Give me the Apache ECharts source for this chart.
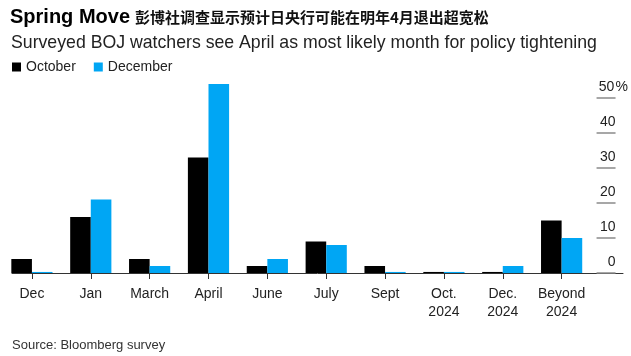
<!DOCTYPE html>
<html>
<head>
<meta charset="utf-8">
<script src="https://cdn.jsdelivr.net/npm/echarts@6/dist/echarts.min.js"></script>
<style>
html,body{margin:0;padding:0;background:#fff;}
#chart{width:631px;height:356px;}
</style>
</head>
<body>
<div id="chart"></div>
<script>
const categories = ['Dec', 'Jan', 'March', 'April', 'June', 'July', 'Sept', 'Oct.\n2024', 'Dec.\n2024', 'Beyond\n2024'];
const october = [4, 16, 4, 33, 2, 9, 2, 0.3, 0.3, 15];
const december = [0.3, 21, 2, 54, 4, 8, 0.3, 0.3, 2, 10];
const yTicks = [0, 10, 20, 30, 40, 50];

const FONT = '"Liberation Sans", Arial, sans-serif';
const chart = echarts.init(document.getElementById('chart'), null, {renderer: 'canvas'});

chart.setOption({
  animation: false,
  backgroundColor: '#ffffff',
  textStyle: {fontFamily: FONT},
  title: [
    {
      left: 10, top: 7, padding: 0,
      text: '{a|Spring Move} {b|彭博社调查显示预计日央行可能在明年4月退出超宽松}',
      textStyle: {
        rich: {
          a: {fontFamily: FONT, fontSize: 20, fontWeight: 'bold', color: '#000'},
          b: {fontFamily: '"Noto Sans CJK SC", sans-serif', fontSize: 15, color: '#111'}
        }
      }
    },
    {
      left: 11, top: 34, padding: 0,
      text: 'Surveyed BOJ watchers see April as most likely month for policy tightening',
      textStyle: {fontFamily: FONT, fontSize: 17.7, fontWeight: 'normal', color: '#222'}
    },
    {
      left: 12, bottom: 4, padding: 0,
      text: 'Source: Bloomberg survey',
      textStyle: {fontFamily: FONT, fontSize: 13, fontWeight: 'normal', color: '#333'}
    }
  ],
  legend: {
    left: 12, top: 60, padding: 0,
    icon: 'rect', itemWidth: 9, itemHeight: 9, itemGap: 18,
    textStyle: {fontFamily: FONT, fontSize: 14, color: '#222'},
    data: ['October', 'December']
  },
  grid: [
    {left: 2.5, right: 38.5, top: 77, bottom: 83, containLabel: false},
    {left: 12, right: 8, top: 77, bottom: 83, containLabel: false}
  ],
  xAxis: [
    {
      type: 'category', gridIndex: 0, data: categories,
      axisLine: {show: false},
      axisTick: {show: true, alignWithLabel: true, length: 6, lineStyle: {color: '#333', width: 1}},
      axisLabel: {interval: 0, fontFamily: FONT, fontSize: 14, color: '#222', margin: 12, lineHeight: 18},
      splitLine: {show: false}
    },
    {
      type: 'value', gridIndex: 1, min: 0, max: 1,
      axisLine: {show: true, onZero: false, lineStyle: {color: '#333', width: 1}},
      axisTick: {show: false}, axisLabel: {show: false}, splitLine: {show: false}
    }
  ],
  yAxis: [
    {
      type: 'value', gridIndex: 0, position: 'right', offset: 5.5,
      min: 0, max: 56,
      axisLine: {show: false},
      axisTick: {show: true, length: 19, customValues: yTicks, lineStyle: {color: '#8a8a8a', width: 1.5}},
      axisLabel: {
        customValues: yTicks,
        align: 'left', verticalAlign: 'bottom', margin: 1, padding: [0, 0, 4, 0],
        formatter: function (v) { return v === 50 ? '{n|50}{p|%}' : '{n|' + v + '}'; },
        rich: {
          n: {width: 18, align: 'right', fontFamily: FONT, fontSize: 14, color: '#222'},
          p: {fontFamily: FONT, fontSize: 14, color: '#222'}
        }
      },
      splitLine: {show: false}
    },
    {
      type: 'value', gridIndex: 1, min: 0, max: 1, show: false
    }
  ],
  series: [
    {
      name: 'October', type: 'bar', xAxisIndex: 0, yAxisIndex: 0,
      data: october, barGap: '0%', barCategoryGap: '30%',
      itemStyle: {color: '#000000'}
    },
    {
      name: 'December', type: 'bar', xAxisIndex: 0, yAxisIndex: 0,
      data: december, barGap: '0%', barCategoryGap: '30%',
      itemStyle: {color: '#00a6f4'}
    }
  ]
});
</script>
</body>
</html>
